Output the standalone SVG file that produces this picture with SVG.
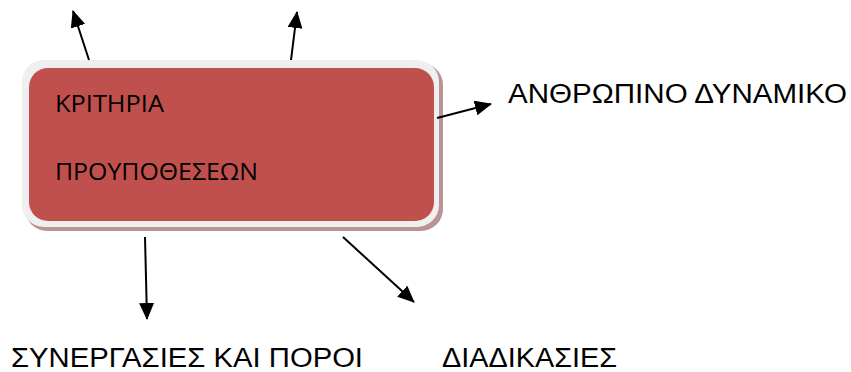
<svg xmlns="http://www.w3.org/2000/svg" width="851" height="372" viewBox="0 0 851 372">
<defs>
<style>
.lbl{font-family:"Liberation Sans",Arial,sans-serif;font-size:27px;fill:#000}
.in{font-family:"Open Sans","Noto Sans",sans-serif;font-size:23px;fill:#000}
.con{stroke:#000;stroke-width:2;fill:none;marker-end:url(#ah)}
</style>
<marker id="ah" markerUnits="userSpaceOnUse" markerWidth="17" markerHeight="15" viewBox="0 0 17 15" refX="16" refY="7.5" orient="auto">
<path d="M0,0 L17,7.5 L0,15 Z" fill="#000"/>
</marker>
</defs>
<rect width="851" height="372" fill="#fff"/>
<g id="box">
<rect x="25" y="63" width="418" height="168" rx="22" fill="#b89494"/>
<rect x="22" y="60" width="417" height="167" rx="22" fill="#efefef"/>
<rect x="29" y="68" width="405" height="153" rx="19" fill="#c0504d"/>
<text class="in" x="55" y="112" textLength="109" lengthAdjust="spacingAndGlyphs">ΚΡΙΤΗΡΙΑ</text>
<text class="in" x="55" y="180" textLength="203" lengthAdjust="spacingAndGlyphs">ΠΡΟΥΠΟΘΕΣΕΩΝ</text>
</g>
<g id="connectors">
<line class="con" x1="89" y1="60" x2="73" y2="11"/>
<line class="con" x1="291" y1="60" x2="297" y2="12"/>
<line class="con" x1="437" y1="118" x2="491" y2="104"/>
<line class="con" x1="145" y1="237" x2="147" y2="319"/>
<line class="con" x1="343" y1="237" x2="414" y2="302"/>
</g>
<g id="anthropino">
<text class="lbl" x="508" y="103" textLength="339" lengthAdjust="spacingAndGlyphs">ΑΝΘΡΩΠΙΝΟ ΔΥΝΑΜΙΚΟ</text>
</g>
<g id="synergasies">
<text class="lbl" x="11" y="367" textLength="352" lengthAdjust="spacingAndGlyphs">ΣΥΝΕΡΓΑΣΙΕΣ ΚΑΙ ΠΟΡΟΙ</text>
</g>
<g id="diadikasies">
<text class="lbl" x="442" y="367" textLength="175" lengthAdjust="spacingAndGlyphs">ΔΙΑΔΙΚΑΣΙΕΣ</text>
</g>
</svg>
